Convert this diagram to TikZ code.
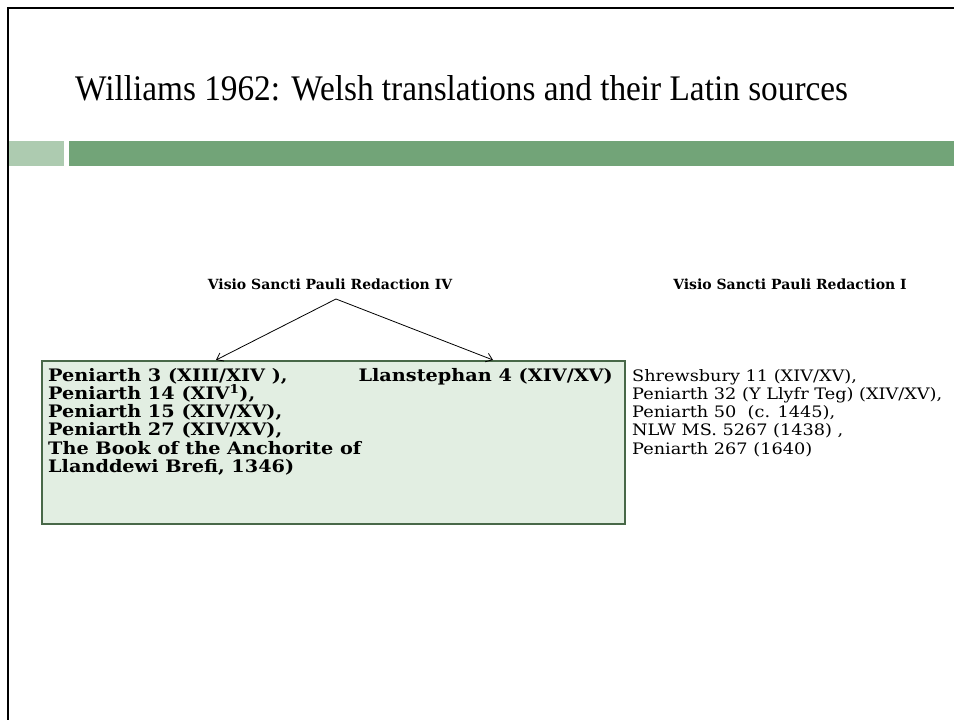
\documentclass[tikz,border=0pt]{standalone}
\usepackage{fontspec}
\setmainfont{Liberation Serif}
\newfontfamily\geo{DejaVu Serif}
\newfontfamily\geow[FakeStretch=1.12]{DejaVu Serif}
\usepackage{tikz}
\usetikzlibrary{arrows.meta,positioning}
\definecolor{barL}{RGB}{173,203,176}
\definecolor{barD}{RGB}{114,164,120}
\definecolor{boxG}{RGB}{72,104,72}
\definecolor{boxF}{RGB}{226,238,226}

\begin{document}
\begin{tikzpicture}[
  x=1pt, y=-1pt,
  title/.style={anchor=base west, inner sep=0pt, font=\fontsize{36}{40}\selectfont},
  head/.style={anchor=base, inner sep=0pt, font=\geo\fontsize{14}{16}\selectfont\bfseries},
  mslist/.style={anchor=north west, inner sep=0pt, align=left, font=\geow\fontsize{17.2}{18.2}\selectfont\bfseries},
  plain/.style={anchor=north west, inner sep=0pt, align=left, font=\geow\fontsize{15.8}{18.2}\selectfont},
  msbox/.style={draw=boxG, line width=2pt, fill=boxF, anchor=north west, inner sep=0pt},
  arr/.style={-{Straight Barb[length=6pt,width=9pt]}, line width=0.8pt}
]
\useasboundingbox (0,0) rectangle (954,720);
% slide frame
\draw[line width=2.5pt] (8,720) -- (8,8) -- (954,8);
\node[title] (ttl) at (75,100) {\scalebox{0.925}[1]{Williams 1962: Welsh translations and their Latin sources}};
% green rule
\fill[barL] (9,141) rectangle (64,166);
\fill[barD] (69,141) rectangle (954,166);
% headings
\node[head] (redIV) at (330,289) {Visio Sancti Pauli Redaction IV};
\node[head] (redI) at (790,289) {Visio Sancti Pauli Redaction I};
% Welsh MSS
\node[msbox, minimum width=583, minimum height=163] (mss) at (41,360) {};
\coordinate (apex) at (336,299);
\coordinate (toL) at (216,360);
\coordinate (toR) at (493,360);
\draw[arr] (apex) -- (toL);
\draw[arr] (apex) -- (toR);
\node[mslist] (grpA) at (48,368) {Peniarth 3 (XIII/XIV ),\\Peniarth 14 (XIV\textsuperscript{1}),\\Peniarth 15 (XIV/XV),\\Peniarth 27 (XIV/XV),\\The Book of the Anchorite of\\Llanddewi Brefi, 1346)};
\node[mslist, anchor=north east] (grpB) at (613,368) {Llanstephan 4 (XIV/XV)};
\node[plain] (grpC) at (632,369) {Shrewsbury 11 (XIV/XV),\\Peniarth 32 (Y Llyfr Teg) (XIV/XV),\\Peniarth 50~~(c. 1445),\\NLW MS. 5267 (1438) ,\\Peniarth 267 (1640)};
\end{tikzpicture}
\end{document}
